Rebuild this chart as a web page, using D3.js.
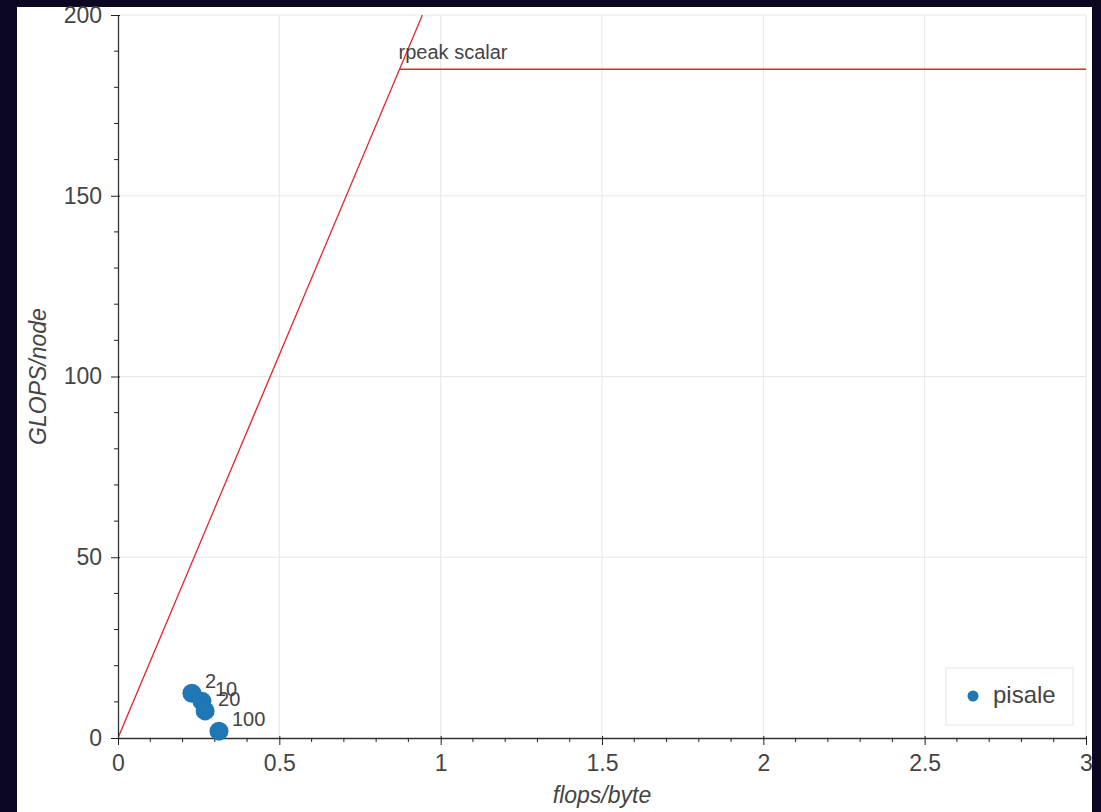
<!DOCTYPE html>
<html>
<head>
<meta charset="utf-8">
<script src="https://cdn.jsdelivr.net/npm/d3@7"></script>
<style>
  body { margin: 0; background: #0c0822; }
  svg { display: block; }
  text { font-family: "Liberation Sans", Arial, sans-serif; fill: #444; }
</style>
</head>
<body>
<script>
//chart values
var runLabels = ["2", "10", "20", "100"],
    intensity = [0.229, 0.260, 0.270, 0.313],   //flops/byte
    perf = [12.4, 10.2, 7.5, 1.9];              //GFLOPS per node

var bandwidth = 212,     //slope of the memory roof
    peakScalar = 185,    //flat roof
    roofName = "rpeak scalar",
    seriesName = "pisale";

var xTicks = [0, 0.5, 1, 1.5, 2, 2.5, 3],
    yTicks = [0, 50, 100, 150, 200];

//page frame
var width = 1101, height = 812;
var margin = {left: 118, right: 1101 - 1086, top: 15, bottom: 812 - 738};

var svg = d3.select("body").append("svg")
    .attr("width", width)
    .attr("height", height);

//white panel
svg.append("rect")
    .attr("x", 17).attr("y", 7)
    .attr("width", 1092 - 17).attr("height", height - 7)
    .attr("fill", "#fff");

var x = d3.scaleLinear().domain([0, 3]).range([margin.left, width - margin.right]);
var y = d3.scaleLinear().domain([0, 200]).range([height - margin.bottom, margin.top]);

//grid lines
svg.append("g").selectAll("line")
    .data(xTicks.slice(1))
    .enter().append("line")
    .attr("x1", d => x(d)).attr("x2", d => x(d))
    .attr("y1", y(0)).attr("y2", y(200))
    .attr("stroke", "#e6e6e6");
svg.append("g").selectAll("line")
    .data(yTicks.slice(1))
    .enter().append("line")
    .attr("x1", x(0)).attr("x2", x(3))
    .attr("y1", d => y(d)).attr("y2", d => y(d))
    .attr("stroke", "#e6e6e6");

//clip for the roofline
svg.append("clipPath").attr("id", "plotclip")
    .append("rect")
    .attr("x", x(0)).attr("y", y(200))
    .attr("width", x(3) - x(0)).attr("height", y(0) - y(200));

var roof = svg.append("g").attr("clip-path", "url(#plotclip)");
var knee = peakScalar / bandwidth;

//memory roof goes on past the knee to the top of the plot
roof.append("line")
    .attr("x1", x(0)).attr("y1", y(0))
    .attr("x2", x(200 / bandwidth)).attr("y2", y(200))
    .attr("stroke", "#e3262d").attr("stroke-width", 1.3);
roof.append("line")
    .attr("x1", x(knee)).attr("y1", y(peakScalar))
    .attr("x2", x(3)).attr("y2", y(peakScalar))
    .attr("stroke", "#e3262d").attr("stroke-width", 1.3);

svg.append("text")
    .attr("x", x(knee) - 1).attr("y", y(peakScalar) - 10)
    .attr("font-size", 20)
    .text(roofName);

//axes
var xAxis = svg.append("g")
    .attr("transform", "translate(0," + y(0) + ")")
    .call(d3.axisBottom(x).tickValues(xTicks).tickFormat(d3.format("")).tickSizeInner(7).tickSizeOuter(0).tickPadding(10));
var yAxis = svg.append("g")
    .attr("transform", "translate(" + x(0) + ",0)")
    .call(d3.axisLeft(y).tickValues(yTicks).tickSizeInner(7).tickSizeOuter(0).tickPadding(9));

//minor ticks
xAxis.selectAll(".minor")
    .data(d3.range(0, 31).map(d => d / 10).filter((d, i) => i % 5 != 0))
    .enter().append("line")
    .attr("class", "minor")
    .attr("x1", d => x(d)).attr("x2", d => x(d))
    .attr("y1", 0).attr("y2", 4)
    .attr("stroke", "#222");
yAxis.selectAll(".minor")
    .data(d3.range(0, 201, 10).filter(d => d % 50 != 0))
    .enter().append("line")
    .attr("class", "minor")
    .attr("x1", 0).attr("x2", -4)
    .attr("y1", d => y(d)).attr("y2", d => y(d))
    .attr("stroke", "#222");

//major ticks also poke in a bit
xAxis.selectAll(".tick line").attr("y1", -2).attr("stroke", "#222");
yAxis.selectAll(".tick line").attr("x1", 2).attr("stroke", "#222");
[xAxis, yAxis].forEach(function(a){
    a.select(".domain").attr("stroke", "#333").attr("stroke-width", 1.3);
    a.selectAll(".tick text").attr("font-size", 23).attr("fill", "#444")
        .attr("font-family", "Liberation Sans, Arial, sans-serif");
});

//axis titles
svg.append("text")
    .attr("x", (x(0) + x(3)) / 2).attr("y", 803)
    .attr("text-anchor", "middle")
    .attr("font-size", 23).attr("font-style", "italic")
    .text("flops/byte");
svg.append("text")
    .attr("transform", "translate(46," + (y(0) + y(200)) / 2 + ") rotate(-90)")
    .attr("text-anchor", "middle")
    .attr("font-size", 23).attr("font-style", "italic")
    .text("GLOPS/node");

//measured points
var points = runLabels.map((d, i) => ({label: d, x: intensity[i], y: perf[i]}));

svg.append("g").selectAll("circle")
    .data(points)
    .enter().append("circle")
    .attr("cx", d => x(d.x)).attr("cy", d => y(d.y))
    .attr("r", 9.5)
    .attr("fill", "#1f77b4");

svg.append("g").selectAll("text")
    .data(points)
    .enter().append("text")
    .attr("x", d => x(d.x) + 13).attr("y", d => y(d.y) - 5)
    .attr("font-size", 20)
    .text(d => d.label);

//legend
var legend = svg.append("g");
legend.append("rect")
    .attr("x", 946).attr("y", 668)
    .attr("width", 127).attr("height", 57)
    .attr("fill", "#fff").attr("stroke", "#e5e5e5");
legend.append("circle")
    .attr("cx", 973).attr("cy", 696).attr("r", 5.5)
    .attr("fill", "#1f77b4");
legend.append("text")
    .attr("x", 993).attr("y", 703)
    .attr("font-size", 24)
    .text(seriesName);
</script>
</body>
</html>
